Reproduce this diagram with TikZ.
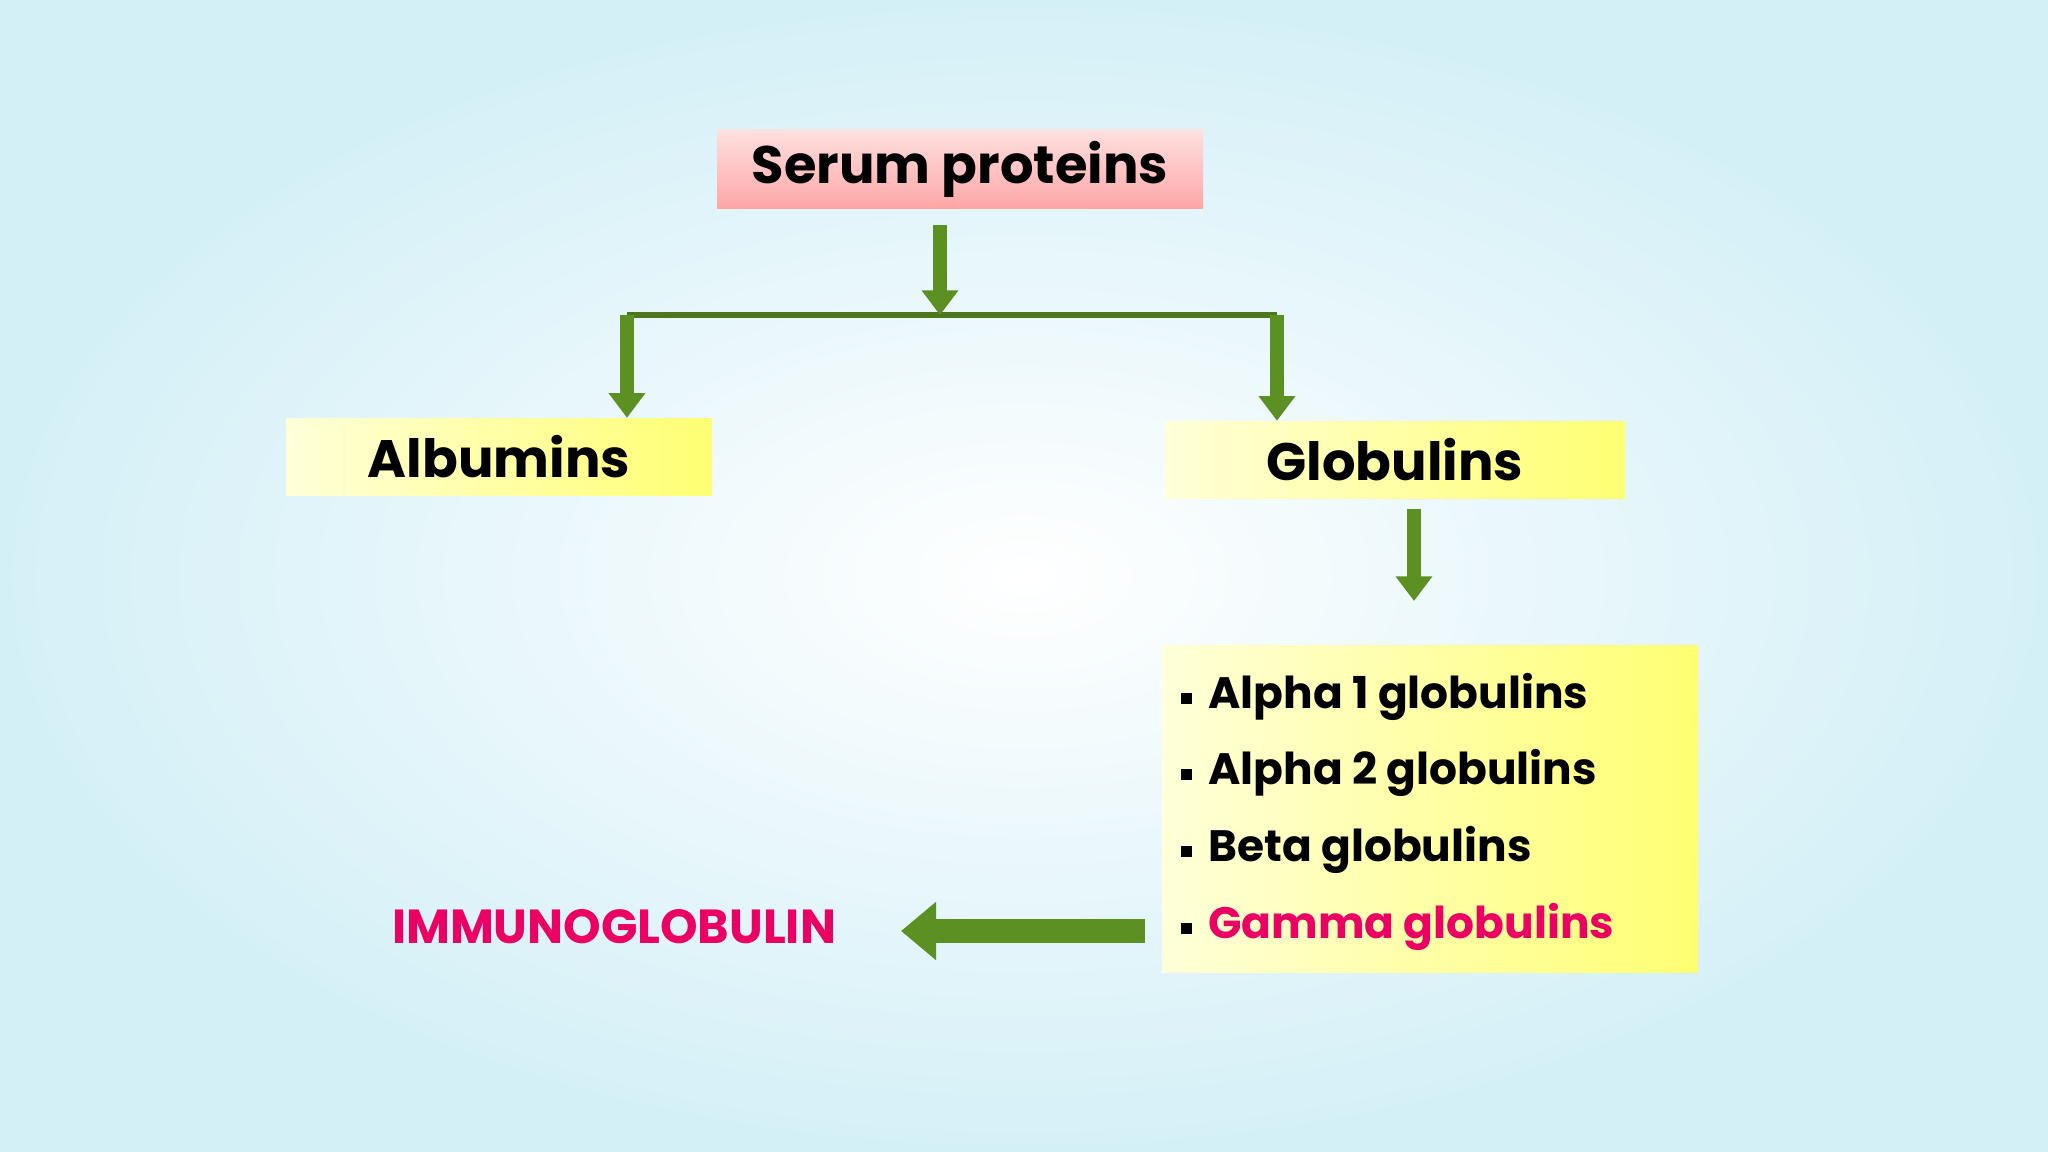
\documentclass[tikz,border=0pt]{standalone}
\usepackage{fontspec}
\setmainfont{Poppins}
\usetikzlibrary{arrows.meta}
\definecolor{bgcyan}{RGB}{212,240,247}
\definecolor{hotpink}{RGB}{235,0,100}
\definecolor{arrowgreen}{RGB}{110,170,40}
\newcommand{\bul}{\rule[0.2ex]{0.11cm}{0.11cm}\hspace{0.16cm}}
\tikzset{
	topbox/.style  = {rectangle, top color=red!12, bottom color=red!35, minimum width=4.86cm, minimum height=0.77cm, font=\bfseries\fontsize{15}{18}\selectfont},
	yelbox/.style  = {rectangle, left color=yellow!15, right color=yellow!55, minimum height=0.77cm, font=\bfseries\fontsize{15}{18}\selectfont},
	item/.style    = {anchor=west, font=\bfseries\fontsize{12.5}{15}\selectfont},
	gdown/.style   = {draw=arrowgreen!85!black, line width=4pt, -{Triangle[width=10pt,length=7pt]}},
	gline/.style   = {draw=arrowgreen!70!black, line width=1.5pt},
	gleft/.style   = {draw=arrowgreen!85!black, line width=7pt, -{Triangle[width=16pt,length=10pt]}},
}
\begin{document}
\begin{tikzpicture}[yscale=-1]
		% background
		\useasboundingbox (0,0) rectangle (20.48,11.52);
		\shade[inner color=white, outer color=bgcyan] (0,0) rectangle (20.48,11.52);

		% boxes
		\node[topbox] (serum) at (9.60,1.69) {Serum proteins};
		\node[yelbox, minimum width=4.26cm] (alb) at (4.99,4.57) {Albumins};
		\node[yelbox, minimum width=4.60cm] (glob) at (13.95,4.60) {Globulins};
		\node[rectangle, left color=yellow!15, right color=yellow!55, minimum width=5.36cm, minimum height=3.26cm] (list) at (14.30,8.09) {};
		\foreach \y/\t in {6.97/Alpha 1 globulins, 7.73/Alpha 2 globulins, 8.50/Beta globulins}
			\node[item] at (11.69,\y) {\bul\t};
		\node[item] (gamma) at (11.69,9.27) {\bul\textcolor{hotpink}{Gamma globulins}};
		\node[font=\bfseries\fontsize{13.6}{16}\selectfont, text=hotpink] (igg) at (6.14,9.27) {IMMUNOGLOBULIN};

		% connectors
		\coordinate (fork) at (9.40,3.15);
		\coordinate (lfork) at (6.27,3.15);
		\coordinate (rfork) at (12.77,3.15);
		\coordinate (gtop) at (14.14,5.09);
		\coordinate (gbot) at (14.14,6.01);
		\coordinate (lstart) at (11.45,9.31);
		\coordinate (lend) at (9.01,9.31);
		\draw[gline] (lfork) -- (rfork);
		\draw[gdown] (9.40,2.25) -- (fork);
		\draw[gdown] (lfork) -- (alb.north -| lfork);
		\draw[gdown] (rfork) -- (glob.north -| rfork);
		\draw[gdown] (gtop) -- (gbot);
		\draw[gleft] (lstart) -- (lend);
\end{tikzpicture}
\end{document}
